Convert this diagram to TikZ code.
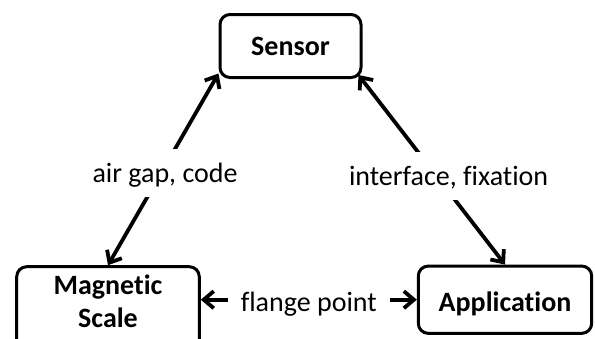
\documentclass[tikz,border=0pt]{standalone}
\usepackage{fontspec}
\setmainfont{Carlito}[Ligatures={NoCommon,NoContextual}]
\usetikzlibrary{arrows.meta}
\begin{document}
\begin{tikzpicture}[x=1pt,y=-1pt,
  >={Straight Barb[length=10pt,width=17pt]},
  box/.style={draw, line width=3pt, rounded corners=10pt, font=\fontsize{28}{33}\selectfont\bfseries, inner sep=0pt},
  boxtext/.style={font=\fontsize{28}{33}\selectfont\bfseries, align=center, inner sep=0pt},
  conn/.style={line width=3.8pt, <->},
  lbl/.style={fill=white, font=\fontsize{28}{33}\selectfont, inner xsep=13pt, inner ysep=8pt, text height=26pt, text depth=6.5pt}]
\useasboundingbox (0,0) rectangle (595,338);
\clip (0,0) rectangle (595,338);
\node[box, minimum width=141pt, minimum height=63pt, text height=18.4pt, text depth=0pt] (sensor) at (290.5,46) {Sensor};
\node[box, minimum width=182.6pt, minimum height=95pt] (mag) at (108,314.2) {};
\node[boxtext] (magtext) at (108,301.75) {Magnetic\\Scale};
\node[box, minimum width=173.4pt, minimum height=67.3pt, text height=24.4pt, text depth=0pt] (app) at (505,299.7) {Application};
\draw[conn] ([yshift=5.5pt]sensor.south west) -- (mag.north)
  node[lbl, pos=0.52, xshift=4pt] (lgap) {air gap, code};
\draw[conn] ([xshift=-4pt,yshift=4pt]sensor.south east) -- (app.north)
  node[lbl, pos=0.533, xshift=12pt] (lif) {interface, fixation};
\draw[conn] (app.west -| mag.east) -- (app.west)
  node[lbl, midway, text depth=1.5pt] (lfl) {flange point};
\end{tikzpicture}
\end{document}
